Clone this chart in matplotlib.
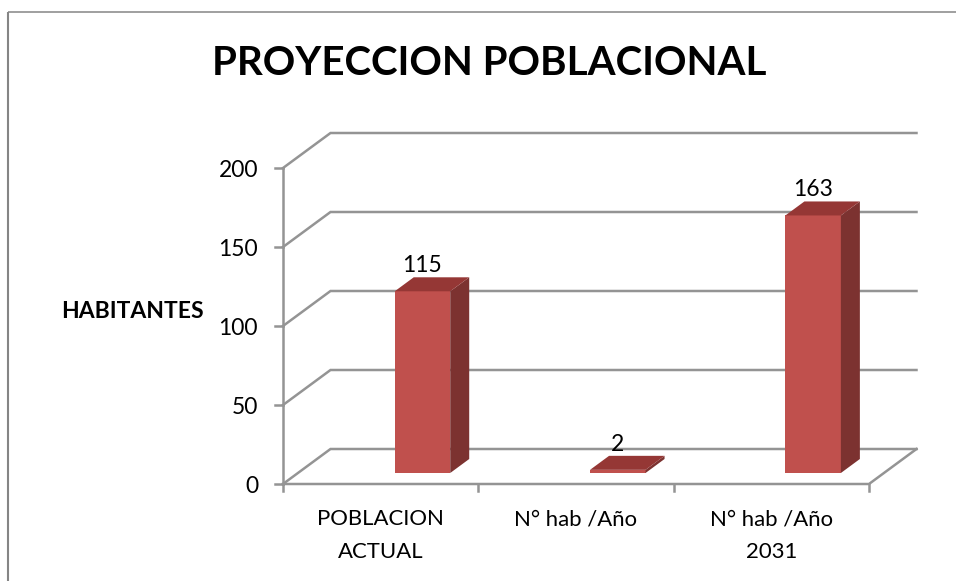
import matplotlib
matplotlib.use('Agg')
import matplotlib.pyplot as plt
from matplotlib.patches import Polygon

categories = ['POBLACION\nACTUAL', 'N° hab /Año', 'N° hab /Año\n2031']
values = [115, 2, 163]
y_ticks = [0, 50, 100, 150, 200]
title = 'PROYECCION POBLACIONAL'
y_label = 'HABITANTES'

plt.rcParams['font.family'] = ['Lato', 'DejaVu Sans']
W, H = 956, 581
GRAY = '#949494'
LW = 1.8

# scale of the front plane in pixels
x_px = 195.33
y_px = 1.58
left_px = 283
base_px = 484

fig = plt.figure(figsize=(W / 100, H / 100), dpi=100)
ax = fig.add_axes([0, 0, 1, 1])
ax.set_xlim(-left_px / x_px, (W - left_px) / x_px)
ax.set_ylim(-(H - base_px) / y_px, base_px / y_px)
ax.axis('off')

# depth of the floor and of the bars
depth_x = 47.5 / x_px
depth_y = 35 / y_px
bar_dx = 19 / x_px
bar_dy = 14 / y_px
bar_w = 55.5 / x_px
shift_x = 41.8 / x_px
shift_y = 11 / y_px

n = len(categories)

# frame of the picture
ax.plot([8 / x_px + ax.get_xlim()[0]] * 2, [ax.get_ylim()[0], (H - 12) / y_px + ax.get_ylim()[0]],
        color='#858585', lw=1.5, solid_capstyle='butt')
ax.plot([8 / x_px + ax.get_xlim()[0], ax.get_xlim()[1]], [(H - 12) / y_px + ax.get_ylim()[0]] * 2,
        color='#858585', lw=1.1, solid_capstyle='butt')

# grid on wall and floor
for v in y_ticks:
    ax.plot([0, depth_x, n + depth_x], [v, v + depth_y, v + depth_y], color=GRAY, lw=LW,
            solid_joinstyle='miter', zorder=1)
    ax.plot([-8 / x_px, 0], [v, v], color=GRAY, lw=LW, zorder=1)
    ax.text(-25 / x_px, v - 1.6, str(v), ha='right', va='center', fontsize=16.5, color='black')

ax.plot([0, 0], [0, y_ticks[-1]], color=GRAY, lw=LW, zorder=1)
ax.plot([0, n, n + depth_x], [0, 0, depth_y], color=GRAY, lw=LW, zorder=1)
for i in range(n + 1):
    ax.plot([i, i], [0, -7 / y_px], color=GRAY, lw=LW, zorder=1)

# bars
for i, v in enumerate(values):
    x0 = i + 0.5 - bar_w / 2 + shift_x
    x1 = x0 + bar_w
    y0 = shift_y
    y1 = y0 + v
    ax.add_patch(Polygon([(x0, y0), (x1, y0), (x1, y1), (x0, y1)], fc='#c0504d', ec='none', zorder=3))
    ax.add_patch(Polygon([(x1, y0), (x1 + bar_dx, y0 + bar_dy), (x1 + bar_dx, y1 + bar_dy), (x1, y1)],
                         fc='#7c3230', ec='none', zorder=3))
    ax.add_patch(Polygon([(x0, y1), (x1, y1), (x1 + bar_dx, y1 + bar_dy), (x0 + bar_dx, y1 + bar_dy)],
                         fc='#953735', ec='none', zorder=3))
    ax.annotate(str(v), (x0 + bar_w / 2, y1), xytext=(0, 18.5), textcoords='offset points',
                ha='center', va='center', fontsize=16.5, color='black', zorder=4)

# category labels
for i, c in enumerate(categories):
    ax.text(i + 0.5, -25 / y_px, c, ha='center', va='top', fontsize=15.9, color='black', linespacing=1.8)

ax.text(0.5 * (212 + 767) / x_px + ax.get_xlim()[0], ax.get_ylim()[1] - 64 / y_px, title,
        ha='center', va='center', fontsize=29, fontweight='bold', color='black')
ax.text(132.5 / x_px + ax.get_xlim()[0], ax.get_ylim()[1] - 312 / y_px, y_label,
        ha='center', va='center', fontsize=16.5, fontweight='bold', color='black')

fig.savefig('out.png', dpi=100)
